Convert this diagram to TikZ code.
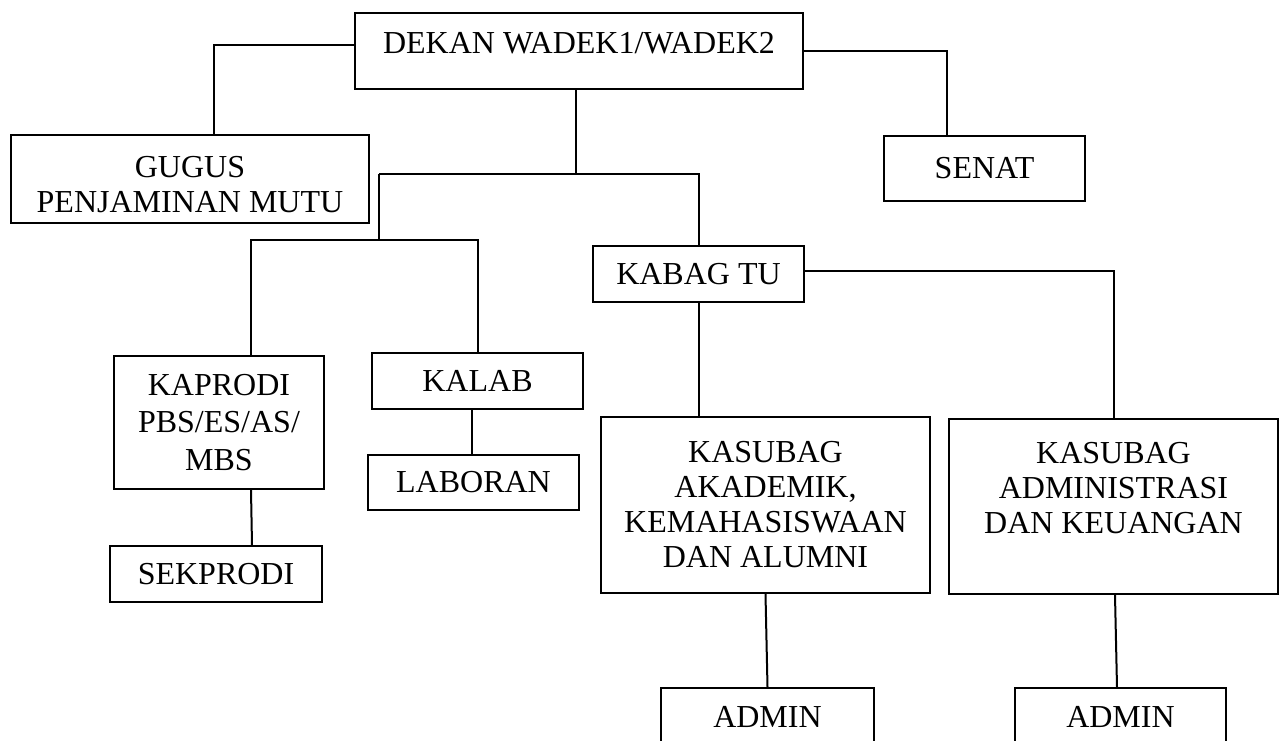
\documentclass[tikz,border=0pt]{standalone}
\usepackage{fontspec}
\setmainfont{Liberation Serif}
\usepackage{tikz}
\tikzset{every node/.append style={font=\fontsize{16pt}{17.5pt}\selectfont}}
\tikzset{box/.style 2 args={draw, line width=1pt, inner sep=0pt, align=center, minimum width=#1*0.5pt, minimum height=#2*0.5pt}}

\begin{document}
\begin{tikzpicture}[x=0.5pt, y=-0.5pt, line width=1pt]
    \useasboundingbox (0,0) rectangle (1281,740);
    \clip (0,0) rectangle (1281,740);

    \node[box={448}{76}, text height=20pt, text depth=18pt] at (579,51) (dekan) {DEKAN WADEK1/WADEK2};
    \node[box={358}{88}, text height=38.5pt, text depth=5.5pt] at (190,179) (gugus) {GUGUS\\PENJAMINAN MUTU};
    \node[box={201}{65}] at (984.5,168.5) (senat) {SENAT};
    \node[box={211}{56}] at (698.5,274) (kabag) {KABAG TU};

    \node[box={210}{133}, font=\fontsize{16pt}{18.75pt}\selectfont] at (219,422.5) (kaprodi) {KAPRODI\\PBS/ES/AS/\\MBS};
    \node[box={212}{56}] at (216,574) (sekprodi) {SEKPRODI};
    \node[box={211}{56}] at (477.5,381) (kalab) {KALAB};
    \node[box={211}{55}] at (473.5,482.5) (laboran) {LABORAN};

    \node[box={329}{176}] at (765.5,505) (akademik) {KASUBAG\\AKADEMIK,\\KEMAHASISWAAN\\DAN ALUMNI};
    \node[box={329}{175}, text height=57.25pt, text depth=30.25pt] at (1113.5,506.5) (keuangan) {KASUBAG\\ADMINISTRASI\\DAN KEUANGAN};
    \node[box={213}{58}] at (767.5,717) (admina) {ADMIN};
    \node[box={211}{58}] at (1120.5,717) (adminb) {ADMIN};

    \coordinate (j1) at (576,174);
    \coordinate (j2) at (379,240);

    \draw ([yshift=3pt]dekan.west) -| ([xshift=12pt]gugus.north);
    \draw (dekan.east) -| ([xshift=-19pt]senat.north);
    \draw (dekan.south -| j1) -- (j1);
    \draw (j2 |- j1) -| (kabag.north);
    \draw (j2 |- j1) -- (j2);
    \draw ([xshift=16pt]kaprodi.north) |- (j2) -| (kalab.north);

    \draw ([xshift=16pt]kaprodi.south) -- ([xshift=18pt]sekprodi.north);
    \draw ([xshift=-3pt]kalab.south) -- ([xshift=-1pt]laboran.north);
    \draw (kabag.south) -- (kabag.south |- akademik.north);
    \draw ([yshift=1.5pt]kabag.east) -| (keuangan.north);
    \draw (akademik.south) -- (admina.north);
    \draw ([xshift=0.75pt]keuangan.south) -- ([xshift=-1.75pt]adminb.north);
\end{tikzpicture}
\end{document}
